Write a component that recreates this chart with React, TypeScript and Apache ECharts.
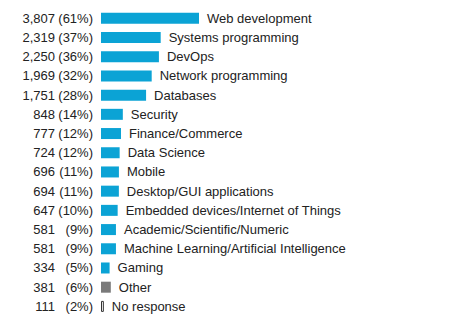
import React, { useEffect, useRef } from "react";
import * as echarts from "echarts";

const categories = [
  "Web development",
  "Systems programming",
  "DevOps",
  "Network programming",
  "Databases",
  "Security",
  "Finance/Commerce",
  "Data Science",
  "Mobile",
  "Desktop/GUI applications",
  "Embedded devices/Internet of Things",
  "Academic/Scientific/Numeric",
  "Machine Learning/Artificial Intelligence",
  "Gaming",
  "Other",
  "No response",
];
const counts = [3807, 2319, 2250, 1969, 1751, 848, 777, 724, 696, 694, 647, 581, 581, 334, 381, 111];
const percents = [61, 37, 36, 32, 28, 14, 12, 12, 11, 11, 10, 9, 9, 5, 6, 2];
const kinds = ["main", "main", "main", "main", "main", "main", "main", "main", "main", "main", "main", "main", "main", "main", "other", "none"];
const xMax = 11654;

const BLUE = "#0ba3d5";
const FONT = "Arial, 'Liberation Sans', sans-serif";
const TEXT = "#222";

function fmt(n: number): string {
  const s = String(n);
  const parts: string[] = [];
  for (let i = s.length; i > 0; i -= 3) parts.unshift(s.substring(Math.max(0, i - 3), i));
  return parts.join(",");
}

export default function App() {
  const ref = useRef<HTMLDivElement>(null);
  useEffect(() => {
    if (!ref.current) return;
    const chart = echarts.init(ref.current, null, { renderer: "svg" });
    const data = counts.map((v, i) => {
      const k = kinds[i];
      let itemStyle: any = { color: BLUE };
      if (k === "other") itemStyle = { color: "#7a7a7a" };
      if (k === "none") itemStyle = { color: "#ffffff", borderColor: "#333333", borderWidth: 1 };
      return { value: v, itemStyle };
    });
    const baseAxis = {
      type: "category",
      inverse: true,
      data: categories,
      position: "left",
      axisLine: { show: false },
      axisTick: { show: false },
      splitLine: { show: false },
    };
    chart.setOption({
      animation: false,
      backgroundColor: "#ffffff",
      grid: { left: 101, width: 300, top: 8.7, bottom: 0, containLabel: false },
      xAxis: { type: "value", min: 0, max: xMax, show: false },
      yAxis: [
        {
          ...baseAxis,
          axisLabel: {
            margin: 8,
            align: "right",
            fontSize: 13,
            fontFamily: FONT,
            color: TEXT,
            formatter: (_v: string, idx: number) => "(" + percents[idx] + "%)",
          },
        },
        {
          ...baseAxis,
          offset: 0,
          axisLabel: {
            margin: 46,
            align: "right",
            fontSize: 13,
            fontFamily: FONT,
            color: TEXT,
            formatter: (_v: string, idx: number) => fmt(counts[idx]),
          },
        },
      ],
      series: [
        {
          type: "bar",
          yAxisIndex: 0,
          data,
          barWidth: 11,
          label: {
            show: true,
            position: "right",
            distance: 8,
            fontSize: 13,
            fontFamily: FONT,
            color: TEXT,
            formatter: (p: any) => categories[p.dataIndex],
          },
        },
      ],
    });
    return () => chart.dispose();
  }, []);
  return <div ref={ref} style={{ width: 468, height: 316, position: "absolute", left: 0, top: 0 }} />;
}
